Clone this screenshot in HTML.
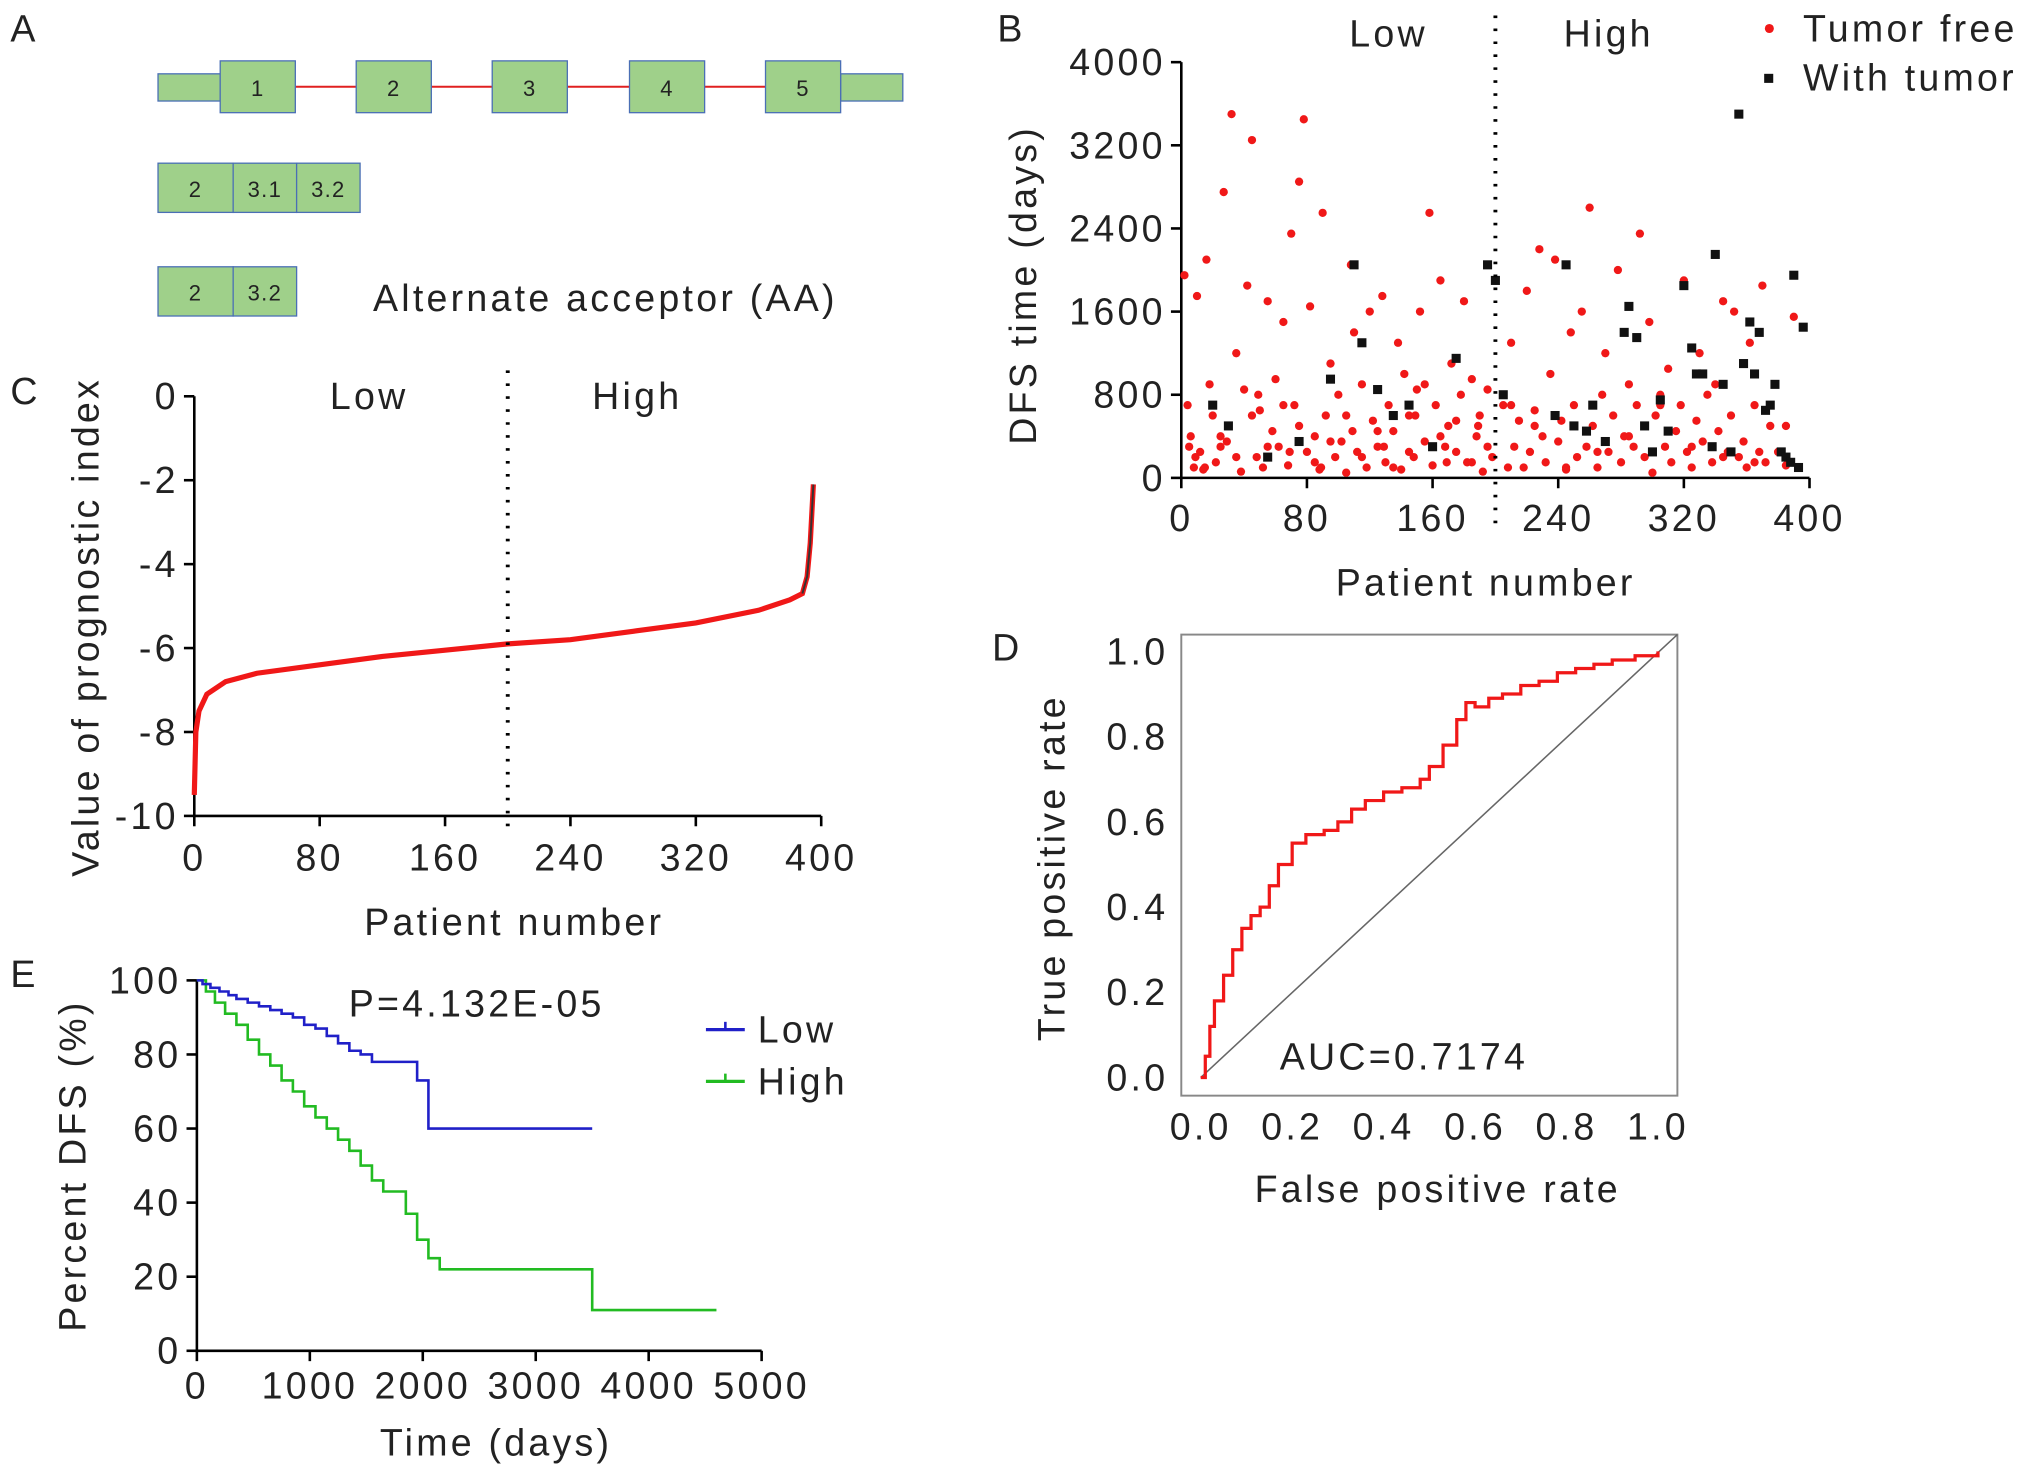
<!DOCTYPE html>
<html><head><meta charset="utf-8"><style>
html,body{margin:0;padding:0;background:#fff}
svg{display:block}
text{font-family:"Liberation Sans",Arial,sans-serif;fill:#222;letter-spacing:2.5px}
text.sm{letter-spacing:1px}
</style></head><body>
<svg id="fig" width="2031" height="1479" viewBox="0 0 1568 1142" preserveAspectRatio="none" xmlns="http://www.w3.org/2000/svg">
<g id="pA">
<text x="8" y="32" font-size="29">A</text>
</g>
<g id="pB"></g>
<g id="pC"></g>
<g id="pD"></g>
<g id="pE"></g>
</svg>
<script>
// ---- Data ----
const exonLabels = ["1","2","3","4","5"];
const scatterXTicks = [0,80,160,240,320,400];
const scatterYTicks = [0,800,1600,2400,3200,4000];
const freeX = [2,4,6,8,10,12,14,16,18,20,22,25,27,30,32,35,38,40,42,45,48,50,52,55,58,60,62,65,68,70,72,75,78,80,82,85,88,90,92,95,98,100,102,105,108,110,112,115,118,120,122,125,128,130,132,135,138,140,142,145,148,150,152,155,158,160,162,165,168,170,172,175,178,180,182,185,188,190,192,195,198,205,208,210,212,215,218,220,222,225,228,230,232,235,238,240,242,245,248,250,252,255,258,260,262,265,268,270,272,275,278,280,282,285,288,290,292,295,298,300,302,305,308,310,312,315,318,320,322,325,328,330,332,335,338,340,342,345,348,350,352,355,358,360,362,365,368,370,372,375,378,380,385,390,5,15,25,35,45,55,65,75,85,95,105,115,125,135,145,155,165,175,185,195,210,225,245,265,285,305,325,345,365,385,9,29,49,69,89,109,129,149,169,189];
const freeY = [1950,700,400,100,1750,250,80,2100,900,600,150,300,2750,500,3500,1200,60,850,1850,3250,200,650,100,1700,450,950,300,1500,120,2350,700,2850,3450,250,1650,400,80,2550,600,1100,200,800,350,50,2050,1400,250,900,100,1600,550,300,1750,150,700,450,1300,80,1000,600,200,850,1600,350,2550,120,700,1900,300,500,1100,250,800,1700,150,950,400,600,60,850,200,700,100,1300,300,550,100,1800,250,650,2200,400,150,1000,2100,350,550,80,1400,700,200,1600,300,2600,500,100,800,1200,250,600,2000,150,400,900,300,700,2350,200,1500,50,600,800,300,1050,150,450,700,1900,250,100,550,1200,350,800,150,900,450,1700,250,600,1600,200,350,100,1300,700,250,1850,150,500,900,250,120,1550,300,100,400,200,600,300,700,500,150,350,600,200,450,100,250,900,400,550,150,300,700,500,100,250,400,700,300,200,150,500,200,350,800,250,100,450,300,600,150,500,300];
const tumorX = [20,30,55,75,95,110,115,125,135,145,160,175,195,200,205,238,245,250,258,262,270,282,285,290,295,300,305,310,320,325,328,332,338,340,345,350,355,358,362,365,368,372,375,378,382,385,388,390,393,396];
const tumorY = [700,500,200,350,950,2050,1300,850,600,700,300,1150,2050,1900,800,600,2050,500,450,700,350,1400,1650,1350,500,250,750,450,1850,1250,1000,1000,300,2150,900,250,3500,1100,1500,1000,1400,650,700,900,250,200,150,1950,100,1450];
const piX = [0,1,3,8,20,40,80,120,160,200,240,280,320,360,380,388,391,393,394,395];
const piY = [-9.5,-8,-7.5,-7.1,-6.8,-6.6,-6.4,-6.2,-6.05,-5.9,-5.8,-5.6,-5.4,-5.1,-4.85,-4.7,-4.3,-3.5,-2.8,-2.1];
const piYTicks = [0,-2,-4,-6,-8,-10];
const rocFpr = [0,0.01,0.02,0.03,0.05,0.07,0.09,0.11,0.13,0.15,0.17,0.2,0.23,0.27,0.3,0.33,0.36,0.4,0.44,0.48,0.5,0.53,0.56,0.58,0.6,0.63,0.66,0.7,0.74,0.78,0.82,0.86,0.9,0.95,1];
const rocTpr = [0,0.05,0.12,0.18,0.24,0.3,0.35,0.38,0.4,0.45,0.5,0.55,0.57,0.58,0.6,0.63,0.65,0.67,0.68,0.7,0.73,0.78,0.84,0.88,0.87,0.89,0.9,0.92,0.93,0.95,0.96,0.97,0.98,0.99,1];
const rocTicks = [0,0.2,0.4,0.6,0.8,1.0];
const lowT = [0,50,120,200,280,350,450,550,650,750,850,950,1050,1150,1250,1350,1450,1550,1650,1950,2050,2200,3500];
const lowS = [100,99,98,97,96,95,94,93,92,91,90,88,87,85,83,81,80,78,78,73,60,60,60];
const highT = [0,80,160,250,350,450,550,650,750,850,950,1050,1150,1250,1350,1450,1550,1650,1750,1850,1950,2050,2150,2600,3500,4600];
const highS = [100,97,94,91,88,84,80,77,73,70,66,63,60,57,54,50,46,43,43,37,30,25,22,22,11,11];
const survXTicks = [0,1000,2000,3000,4000,5000];
const survYTicks = [0,20,40,60,80,100];

const NS="http://www.w3.org/2000/svg";
function mk(parent,tag,attrs,name,txt){const e=document.createElementNS(NS,tag);for(const k in attrs)e.setAttribute(k,attrs[k]);


if(txt!==undefined)e.textContent=txt;parent.appendChild(e);return e;}
function lin(d0,d1,r0,r1){return v=>r0+(v-d0)/(d1-d0)*(r1-r0);}
const FS=29;

// ---- Panel A ----
const A=document.getElementById('pA');
const exX=[170,275,380,486,591];
mk(A,'rect',{x:122,y:57,width:48,height:21,fill:'#9fd08a',stroke:'#4a6fb5','stroke-width':1},'utr-left');
mk(A,'rect',{x:649,y:57,width:48,height:21,fill:'#9fd08a',stroke:'#4a6fb5','stroke-width':1},'utr-right');
for(let i=0;i<4;i++)mk(A,'line',{x1:exX[i]+58,y1:67,x2:exX[i+1],y2:67,stroke:'#e02020','stroke-width':1.5},'intron-'+(i+1));
exonLabels.forEach((l,i)=>{mk(A,'rect',{x:exX[i],y:47,width:58,height:40,fill:'#9fd08a',stroke:'#4a6fb5','stroke-width':1},'exon-'+l);
mk(A,'text',{x:exX[i]+29,y:74,'font-size':17,'text-anchor':'middle',class:'sm'},'exon-label-'+l,l);});
[[122,58,'2'],[180,49,'3.1'],[229,49,'3.2']].forEach(([x,w,l])=>{mk(A,'rect',{x:x,y:126,width:w,height:38,fill:'#9fd08a',stroke:'#4a6fb5'},'isoform1-exon-'+l);
mk(A,'text',{x:x+w/2,y:152,'font-size':17,'text-anchor':'middle',class:'sm'},'isoform1-label',l);});
[[122,58,'2'],[180,49,'3.2']].forEach(([x,w,l])=>{mk(A,'rect',{x:x,y:206,width:w,height:38,fill:'#9fd08a',stroke:'#4a6fb5'},'isoform2-exon-'+l);
mk(A,'text',{x:x+w/2,y:232,'font-size':17,'text-anchor':'middle',class:'sm'},'isoform2-label',l);});
mk(A,'text',{x:288,y:240,'font-size':FS},'alternate-acceptor-label','Alternate acceptor (AA)');

// ---- Panel B ----
const B=document.getElementById('pB');
const bx=lin(0,400,912,1397), by=lin(0,4000,369,48);
mk(B,'text',{x:770,y:32,'font-size':FS},'panel-label-b','B');
mk(B,'line',{x1:912,y1:48,x2:912,y2:370,stroke:'#000','stroke-width':2},'y-axis');
mk(B,'line',{x1:911,y1:369,x2:1397,y2:369,stroke:'#000','stroke-width':2},'x-axis');
scatterYTicks.forEach(t=>{mk(B,'line',{x1:904,y1:by(t),x2:912,y2:by(t),stroke:'#000','stroke-width':2},'y-tick');
mk(B,'text',{x:900,y:by(t)+10,'font-size':FS,'text-anchor':'end'},'y-tick-label',t);});
scatterXTicks.forEach(t=>{mk(B,'line',{x1:bx(t),y1:369,x2:bx(t),y2:377,stroke:'#000','stroke-width':2},'x-tick');
mk(B,'text',{x:bx(t),y:410,'font-size':FS,'text-anchor':'middle'},'x-tick-label',t);});
const nFree=Math.min(freeX.length,freeY.length);
for(let i=0;i<nFree;i++)mk(B,'circle',{cx:bx(freeX[i]),cy:by(freeY[i]),r:3.2,fill:'#f01818'},'tumor-free-point');
tumorX.forEach((v,i)=>mk(B,'rect',{x:bx(v)-3.5,y:by(tumorY[i])-3.5,width:7,height:7,fill:'#111'},'with-tumor-point'));
mk(B,'line',{x1:bx(200),y1:12,x2:bx(200),y2:410,stroke:'#000','stroke-width':3,'stroke-dasharray':'2 8'},'cutoff-line');
mk(B,'text',{x:1072,y:36,'font-size':FS,'text-anchor':'middle'},'low-label','Low');
mk(B,'text',{x:1242,y:36,'font-size':FS,'text-anchor':'middle'},'high-label','High');
mk(B,'circle',{cx:1366,cy:22,r:3.5,fill:'#f01818'},'legend-tumor-free-marker');
mk(B,'text',{x:1392,y:32,'font-size':FS},'legend-tumor-free','Tumor free');
mk(B,'rect',{x:1362,y:57,width:7,height:7,fill:'#111'},'legend-with-tumor-marker');
mk(B,'text',{x:1392,y:70,'font-size':FS},'legend-with-tumor','With tumor');
mk(B,'text',{x:800,y:220,'font-size':FS,'text-anchor':'middle',transform:'rotate(-90 800 220)'},'y-axis-title','DFS time (days)');
mk(B,'text',{x:1147,y:460,'font-size':FS,'text-anchor':'middle'},'x-axis-title','Patient number');

// ---- Panel C ----
const C=document.getElementById('pC');
const cx=lin(0,400,150,634), cy=lin(0,-10,306,630);
mk(C,'text',{x:8,y:312,'font-size':FS},'panel-label-c','C');
mk(C,'line',{x1:150,y1:306,x2:150,y2:631,stroke:'#000','stroke-width':2},'y-axis');
mk(C,'line',{x1:149,y1:630,x2:634,y2:630,stroke:'#000','stroke-width':2},'x-axis');
piYTicks.forEach(t=>{mk(C,'line',{x1:142,y1:cy(t),x2:150,y2:cy(t),stroke:'#000','stroke-width':2},'y-tick');
mk(C,'text',{x:138,y:cy(t)+10,'font-size':FS,'text-anchor':'end'},'y-tick-label',t);});
scatterXTicks.forEach(t=>{mk(C,'line',{x1:cx(t),y1:630,x2:cx(t),y2:638,stroke:'#000','stroke-width':2},'x-tick');
mk(C,'text',{x:cx(t),y:672,'font-size':FS,'text-anchor':'middle'},'x-tick-label',t);});
mk(C,'polyline',{points:piX.map((v,i)=>cx(v)+','+cy(piY[i])).join(' '),fill:'none',stroke:'#f01818','stroke-width':4},'prognostic-index-curve');
mk(C,'polyline',{points:piX.slice(-5).map((v,i)=>cx(v)+','+cy(piY[piY.length-5+i])).join(' '),fill:'none',stroke:'#333','stroke-width':1.5},'curve-tail');
mk(C,'line',{x1:cx(200),y1:286,x2:cx(200),y2:645,stroke:'#000','stroke-width':3,'stroke-dasharray':'2 8'},'cutoff-line');
mk(C,'text',{x:285,y:316,'font-size':FS,'text-anchor':'middle'},'low-label','Low');
mk(C,'text',{x:492,y:316,'font-size':FS,'text-anchor':'middle'},'high-label','High');
mk(C,'text',{x:76,y:484,'font-size':FS,'text-anchor':'middle',transform:'rotate(-90 76 484)'},'y-axis-title','Value of prognostic index');
mk(C,'text',{x:397,y:722,'font-size':FS,'text-anchor':'middle'},'x-axis-title','Patient number');

// ---- Panel D ----
const D=document.getElementById('pD');
const dx=lin(0,1,927,1280), dy=lin(0,1,832,503);
mk(D,'text',{x:766,y:510,'font-size':FS},'panel-label-d','D');
mk(D,'rect',{x:912,y:490,width:383,height:356,fill:'none',stroke:'#888','stroke-width':1.5},'plot-frame');
mk(D,'line',{x1:dx(0),y1:dy(0),x2:1295,y2:490,stroke:'#666','stroke-width':1.2},'reference-diagonal');
rocTicks.forEach(t=>{mk(D,'text',{x:902,y:dy(t)+10,'font-size':FS,'text-anchor':'end'},'y-tick-label',t.toFixed(1));
mk(D,'text',{x:dx(t),y:880,'font-size':FS,'text-anchor':'middle'},'x-tick-label',t.toFixed(1));});
let rp=[];rocFpr.forEach((v,i)=>{if(i>0)rp.push(dx(v)+','+dy(rocTpr[i-1]));rp.push(dx(v)+','+dy(rocTpr[i]));});
mk(D,'polyline',{points:rp.join(' '),fill:'none',stroke:'#f01818','stroke-width':2.5},'roc-curve');
mk(D,'text',{x:988,y:826,'font-size':FS},'auc-label','AUC=0.7174');
mk(D,'text',{x:822,y:670,'font-size':FS,'text-anchor':'middle',transform:'rotate(-90 822 670)'},'y-axis-title','True positive rate');
mk(D,'text',{x:1110,y:928,'font-size':FS,'text-anchor':'middle'},'x-axis-title','False positive rate');

// ---- Panel E ----
const E=document.getElementById('pE');
const ex=lin(0,5000,152,588), ey=lin(0,100,1043,757);
mk(E,'text',{x:8,y:762,'font-size':FS},'panel-label-e','E');
mk(E,'line',{x1:152,y1:757,x2:152,y2:1044,stroke:'#000','stroke-width':2},'y-axis');
mk(E,'line',{x1:151,y1:1043,x2:588,y2:1043,stroke:'#000','stroke-width':2},'x-axis');
survYTicks.forEach(t=>{mk(E,'line',{x1:144,y1:ey(t),x2:152,y2:ey(t),stroke:'#000','stroke-width':2},'y-tick');
mk(E,'text',{x:140,y:ey(t)+10,'font-size':FS,'text-anchor':'end'},'y-tick-label',t);});
survXTicks.forEach(t=>{mk(E,'line',{x1:ex(t),y1:1043,x2:ex(t),y2:1051,stroke:'#000','stroke-width':2},'x-tick');
mk(E,'text',{x:ex(t),y:1080,'font-size':FS,'text-anchor':'middle'},'x-tick-label',t);});
function step(T,S){let p=[];T.forEach((t,i)=>{if(i>0)p.push(ex(t)+','+ey(S[i-1]));p.push(ex(t)+','+ey(S[i]));});return p.join(' ');}
mk(E,'polyline',{points:step(highT,highS),fill:'none',stroke:'#22bb22','stroke-width':2},'high-risk-curve');
mk(E,'polyline',{points:step(lowT,lowS),fill:'none',stroke:'#2020c8','stroke-width':2},'low-risk-curve');
mk(E,'text',{x:368,y:785,'font-size':FS,'text-anchor':'middle'},'p-value-label','P=4.132E-05');
mk(E,'line',{x1:545,y1:795,x2:575,y2:795,stroke:'#2020c8','stroke-width':2.5},'legend-low-line');
mk(E,'line',{x1:560,y1:789,x2:560,y2:795,stroke:'#2020c8','stroke-width':2},'legend-low-tick');
mk(E,'text',{x:585,y:805,'font-size':FS},'legend-low','Low');
mk(E,'line',{x1:545,y1:835,x2:575,y2:835,stroke:'#22bb22','stroke-width':2.5},'legend-high-line');
mk(E,'line',{x1:560,y1:829,x2:560,y2:835,stroke:'#22bb22','stroke-width':2},'legend-high-tick');
mk(E,'text',{x:585,y:845,'font-size':FS},'legend-high','High');
mk(E,'text',{x:66,y:900,'font-size':FS,'text-anchor':'middle',transform:'rotate(-90 66 900)'},'y-axis-title','Percent DFS (%)');
mk(E,'text',{x:383,y:1124,'font-size':FS,'text-anchor':'middle'},'x-axis-title','Time (days)');
</script>
</body></html>
